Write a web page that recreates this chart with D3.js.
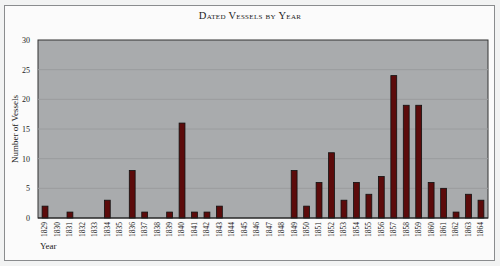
<!DOCTYPE html>
<html lang="en">
<head>
	<meta charset="UTF-8">
	<title>Dated Vessels by Year</title>
	<script src="https://cdn.jsdelivr.net/npm/d3@7"></script>
	<style>
		body { margin: 0; background: #f2f3f3; }
		text { font-family: "Liberation Serif", "DejaVu Serif", serif; fill: #222; }
	</style>
</head>
<body>
	<svg id="svg"></svg>
	<script>
		var years = ["1829","1830","1831","1832","1833","1834","1835","1836","1837","1838","1839","1840","1841","1842","1843","1844","1845","1846","1847","1848","1849","1850","1851","1852","1853","1854","1855","1856","1857","1858","1859","1860","1861","1862","1863","1864"];
		var vessels = [2,0,1,0,0,3,0,8,1,0,1,16,1,1,2,0,0,0,0,0,8,2,6,11,3,6,4,7,24,19,19,6,5,1,4,3];
		var yTicks = [0,5,10,15,20,25,30];

		var w = 500, h = 266,
			svg = d3.select("#svg").attr("width", w).attr("height", h),
			m = {left: 38, right: 12, top: 40, bottom: 48};

		// outer frame
		svg.append("rect").attr("x", 4.5).attr("y", 5.5).attr("width", 490).attr("height", 255)
			.attr("fill", "#fbfbfb").attr("stroke", "#8a8c8e").attr("stroke-width", 1);

		svg.append("text").attr("x", 250).attr("y", 19).attr("text-anchor", "middle")
			.style("font-variant", "small-caps").style("font-size", "10.5px").style("letter-spacing", "0.3px")
			.text("Dated Vessels by Year");

		var x = d3.scaleBand().domain(years).range([m.left, w - m.right]).paddingInner(0.53).paddingOuter(0.33);
		var y = d3.scaleLinear().domain([0, 30]).range([h - m.bottom, m.top]);

		svg.append("rect").attr("x", m.left).attr("y", m.top)
			.attr("width", w - m.right - m.left).attr("height", h - m.bottom - m.top)
			.attr("fill", "#a9abad").attr("stroke", "#333").attr("stroke-width", 1);

		svg.append("g").selectAll("line").data(yTicks.slice(1, -1)).enter().append("line")
			.attr("x1", m.left).attr("x2", w - m.right)
			.attr("y1", function(d) { return y(d); }).attr("y2", function(d) { return y(d); })
			.attr("stroke", "#9a9c9e").attr("stroke-width", 1);

		svg.append("g").selectAll("rect").data(vessels).enter().append("rect")
			.attr("x", function(d, i) { return x(years[i]); })
			.attr("y", function(d) { return y(d); })
			.attr("width", x.bandwidth())
			.attr("height", function(d) { return y(0) - y(d); })
			.attr("fill", "#5c0b0b").attr("stroke", "#111").attr("stroke-width", 0.8)
			.style("display", function(d) { return d ? null : "none"; });

		svg.append("line").attr("x1", m.left).attr("x2", w - m.right)
			.attr("y1", y(0)).attr("y2", y(0)).attr("stroke", "#222").attr("stroke-width", 1.2);

		var yAxis = svg.append("g").attr("transform", "translate(" + m.left + ",0)")
			.call(d3.axisLeft(y).tickValues(yTicks).tickSize(0).tickPadding(8));
		yAxis.select(".domain").remove();
		yAxis.selectAll("text").style("font-size", "8px");

		var xAxis = svg.append("g").attr("transform", "translate(0," + y(0) + ")")
			.call(d3.axisBottom(x).tickSize(0));
		xAxis.select(".domain").remove();
		xAxis.selectAll("text").style("font-size", "7.5px")
			.attr("text-anchor", "end").attr("dx", "-4px").attr("dy", "0.32em").attr("y", 0)
			.attr("transform", "rotate(-90)");

		svg.append("text").attr("transform", "translate(18," + ((m.top + h - m.bottom) / 2) + ") rotate(-90)")
			.attr("text-anchor", "middle").style("font-size", "9px").text("Number of Vessels");

		svg.append("text").attr("x", 40).attr("y", 249).style("font-size", "9px").text("Year");
	</script>
</body>
</html>
